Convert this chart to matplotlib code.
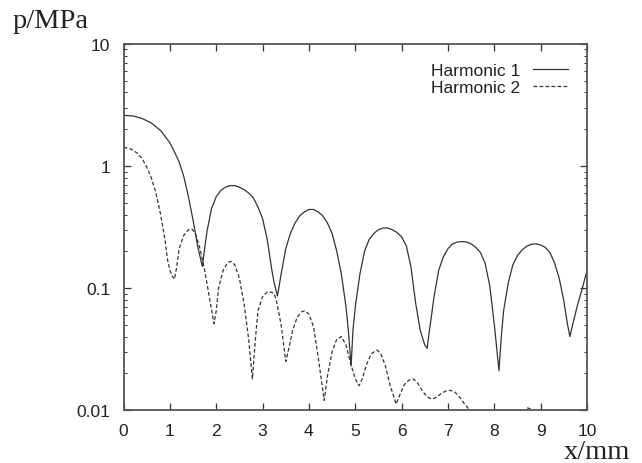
import numpy as np
import matplotlib
matplotlib.use("Agg")
import matplotlib.pyplot as plt
from matplotlib.ticker import LogLocator, FixedLocator, NullFormatter

# Harmonic 1 (solid)
h1_x = [0.0, 0.2, 0.4, 0.6, 0.8, 1.0, 1.1, 1.2, 1.3, 1.4, 1.5, 1.6, 1.7,
        1.75, 1.8, 1.9, 2.0, 2.1, 2.2, 2.3, 2.4, 2.5, 2.6, 2.7, 2.8, 2.9, 3.0,
        3.1, 3.2, 3.25, 3.32,
        3.35, 3.4, 3.5, 3.6, 3.7, 3.8, 3.9, 4.0, 4.1, 4.2, 4.3, 4.4, 4.5, 4.6,
        4.7, 4.8, 4.85, 4.91,
        4.95, 5.0, 5.1, 5.2, 5.3, 5.4, 5.5, 5.6, 5.7, 5.8, 5.9, 6.0, 6.1, 6.2,
        6.3, 6.4, 6.5, 6.55,
        6.6, 6.7, 6.8, 6.9, 7.0, 7.1, 7.2, 7.3, 7.4, 7.5, 7.6, 7.7, 7.8, 7.9,
        8.0, 8.1,
        8.15, 8.2, 8.3, 8.4, 8.5, 8.6, 8.7, 8.8, 8.9, 9.0, 9.1, 9.2, 9.3, 9.4,
        9.5, 9.58, 9.63, 9.7, 9.8, 9.9, 10.0]
h1_p = [2.6, 2.57, 2.45, 2.25, 1.95, 1.55, 1.3, 1.08, 0.82, 0.56, 0.36, 0.22, 0.15,
        0.21, 0.29, 0.45, 0.56, 0.63, 0.67, 0.69, 0.69, 0.67, 0.64, 0.6, 0.55,
        0.46, 0.37, 0.25, 0.14, 0.11, 0.086,
        0.1, 0.13, 0.21, 0.28, 0.34, 0.39, 0.42, 0.44, 0.44, 0.42, 0.39, 0.34,
        0.28, 0.2, 0.13, 0.07, 0.045, 0.023,
        0.045, 0.07, 0.13, 0.2, 0.25, 0.28, 0.3, 0.31, 0.31, 0.3, 0.285, 0.262,
        0.222, 0.15, 0.076, 0.045, 0.034, 0.032,
        0.045, 0.085, 0.14, 0.18, 0.21, 0.23, 0.238, 0.24, 0.238, 0.23, 0.215,
        0.195, 0.16, 0.105, 0.05, 0.021,
        0.04, 0.065, 0.11, 0.155, 0.185, 0.205, 0.22, 0.228, 0.23, 0.225, 0.215,
        0.195, 0.16, 0.12, 0.078, 0.05, 0.04, 0.052, 0.074, 0.1, 0.14]

# Harmonic 2 (dashed)
h2_x = [0.0, 0.1, 0.2, 0.3, 0.4, 0.5, 0.6, 0.7, 0.8, 0.9, 0.95, 1.0, 1.05, 1.1,
        1.15, 1.2, 1.3, 1.4, 1.47, 1.55, 1.65, 1.75, 1.85, 1.95, 2.0, 2.05,
        2.15, 2.25, 2.32, 2.4, 2.5, 2.6, 2.7, 2.78, 2.85, 2.9, 3.0, 3.1, 3.2,
        3.25, 3.3, 3.4, 3.5, 3.55, 3.65, 3.75, 3.85, 3.92, 4.0, 4.1, 4.2, 4.33,
        4.4, 4.5, 4.6, 4.7, 4.8, 4.9, 5.0, 5.08, 5.15, 5.25, 5.35, 5.47, 5.55,
        5.65, 5.75, 5.88, 5.95, 6.05, 6.15, 6.25, 6.35, 6.45, 6.55, 6.65, 6.75,
        6.85, 6.95, 7.05, 7.15, 7.25, 7.35, 7.45, 7.6, 8.6, 8.72, 8.82, 9.0, 10.0]
h2_p = [1.42, 1.4, 1.35, 1.27, 1.15, 0.98, 0.8, 0.6, 0.4, 0.24, 0.17, 0.14, 0.125,
        0.118, 0.15, 0.21, 0.27, 0.3, 0.305, 0.28, 0.21, 0.14, 0.085, 0.051,
        0.065, 0.1, 0.14, 0.162, 0.165, 0.155, 0.12, 0.075, 0.038, 0.018, 0.04,
        0.065, 0.085, 0.093, 0.092, 0.09, 0.078, 0.05, 0.025, 0.03, 0.045,
        0.058, 0.064, 0.065, 0.061, 0.048, 0.027, 0.012, 0.019, 0.03, 0.038,
        0.04, 0.034, 0.024, 0.018, 0.0158, 0.018, 0.024, 0.029, 0.031, 0.029,
        0.023, 0.016, 0.0112, 0.013, 0.016, 0.0175, 0.018, 0.0165, 0.0143,
        0.0128, 0.0123, 0.0127, 0.0136, 0.0143, 0.0145, 0.014, 0.0128, 0.0113,
        0.0102, 0.0094, 0.0094, 0.0104, 0.0101, 0.0093, 0.009]

x_ticks = list(range(0, 11))
y_ticks = [0.01, 0.1, 1, 10]
y_tick_labels = ["0.01", "0.1", "1", "10"]

fig = plt.figure(figsize=(6.42, 4.64), dpi=100)
ax = fig.add_axes([0.1924, 0.1142, 0.722, 0.789])

ink = "#333333"
ax.plot(h1_x, h1_p, color=ink, lw=0.9, label="Harmonic 1")
ax.plot(h2_x, h2_p, color=ink, lw=0.9, dashes=(3, 1.8), label="Harmonic 2")

ax.set_yscale("log")
ax.set_xlim(0, 10)
ax.set_ylim(0.01, 10)

ax.xaxis.set_major_locator(FixedLocator(x_ticks))
ax.set_xticklabels([str(t) for t in x_ticks])
ax.yaxis.set_major_locator(FixedLocator(y_ticks))
ax.set_yticklabels(y_tick_labels)
ax.yaxis.set_minor_locator(LogLocator(base=10, subs=np.arange(2, 10)))
ax.yaxis.set_minor_formatter(NullFormatter())

sans = "Liberation Sans"
for lab in ax.get_xticklabels() + ax.get_yticklabels():
    lab.set_fontfamily(sans)
    lab.set_fontsize(12.5)
    lab.set_color("#222222")

ax.tick_params(which="major", direction="in", length=5, width=0.9,
               top=True, right=True, color=ink, pad=9.5)
ax.tick_params(which="minor", direction="in", length=2.5, width=0.7,
               top=False, right=True, color=ink)
ax.tick_params(axis="x", which="minor", bottom=False, top=False)

for s in ax.spines.values():
    s.set_color("#555555")
    s.set_linewidth(1.3)

fig.text(0.02, 0.953, "p/MPa", fontfamily="Liberation Serif", fontsize=20.5,
         ha="left", va="center", color="#222222")
fig.text(0.982, 0.024, "x/mm", fontfamily="Liberation Serif", fontsize=20.5,
         ha="right", va="center", color="#222222")

leg = ax.legend(loc="upper right", bbox_to_anchor=(0.959, 0.948), frameon=False,
                markerfirst=False, handlelength=2.0, handletextpad=0.75,
                labelspacing=0.1, borderaxespad=0, borderpad=0,
                prop={"family": sans, "size": 12.5})
for t in leg.get_texts():
    t.set_color("#222222")

fig.savefig("out.png", dpi=100)
